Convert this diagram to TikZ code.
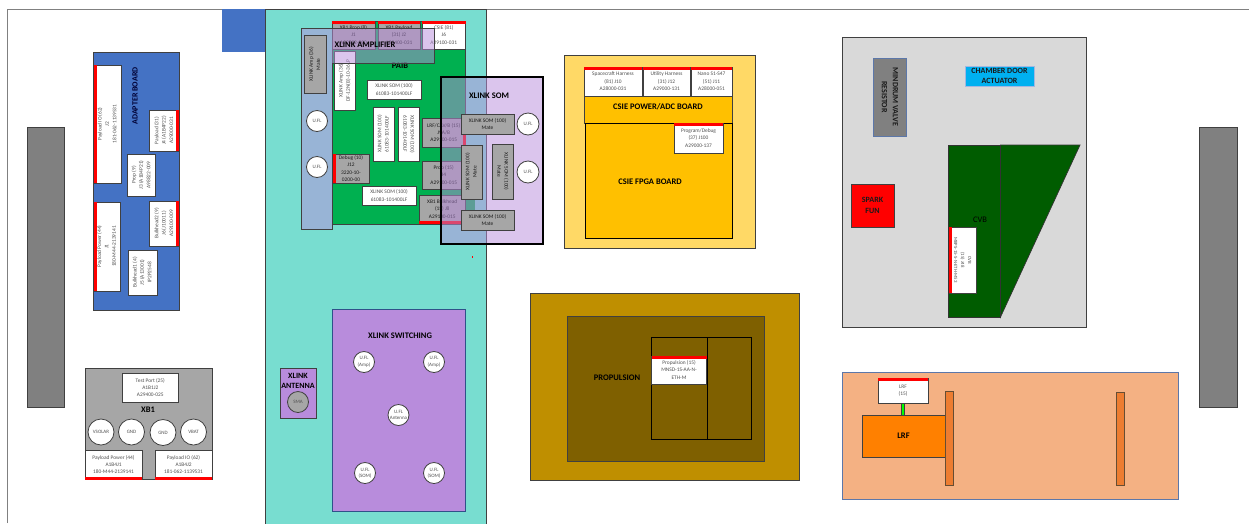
\documentclass[tikz,border=0pt]{standalone}
\usepackage{fontspec}
\usepackage{graphicx}
\setmainfont{Carlito}
\definecolor{teal1}{HTML}{78DDD0}
\definecolor{blue1}{HTML}{4472C4}
\definecolor{purp}{HTML}{B88CDC}
\definecolor{gray1}{HTML}{A6A6A6}
\definecolor{gray2}{HTML}{808080}
\definecolor{pale}{HTML}{D9D9D9}
\definecolor{ygold}{HTML}{FFC000}
\definecolor{ylight}{HTML}{FFD966}
\definecolor{brn1}{HTML}{BF8F00}
\definecolor{brn2}{HTML}{7F6000}
\definecolor{dgreen}{HTML}{005C00}
\definecolor{pgreen}{HTML}{00B050}
\definecolor{peach}{HTML}{F4B183}
\definecolor{orng}{HTML}{FF8000}
\definecolor{orng2}{HTML}{ED7D31}
\definecolor{sky}{HTML}{00B0F0}
\definecolor{edge}{HTML}{404040}
\definecolor{txt}{HTML}{505050}
\definecolor{dtxt}{HTML}{1A1A1A}
\newcommand{\bx}[7]{\node[#6,minimum width={(#4-#2)*1pt},minimum height={(#5-#3)*1pt}] (#1) at ({(#2+#4)/2},{(#3+#5)/2}) {#7};}
\newcommand{\up}[1]{\rotatebox{90}{\begin{tabular}{@{}c@{}}#1\end{tabular}}}
\newcommand{\dn}[1]{\rotatebox{-90}{\begin{tabular}{@{}c@{}}#1\end{tabular}}}
\tikzset{
  base/.style={inner sep=0pt,outer sep=0pt,align=center},
  panel/.style={base,fill=#1,draw=edge,line width=.7pt},
  conn/.style={base,fill=white,draw=edge,line width=.8pt,font=\fontsize{5.4}{7.4}\selectfont,text=txt},
  gconn/.style={conn,fill=gray1,text=dtxt},
  redstrip/.style={base,fill=red},
  ovl/.style={base,fill=purp,fill opacity=.5,draw=#1},
  title/.style={base,font=\fontsize{8.5}{10.5}\selectfont\bfseries,text=black},
  tport/.style={circle,base,fill=white,draw=edge,line width=.8pt,minimum size=21pt,font=\fontsize{5}{6.5}\selectfont,text=txt},
  dot/.style={base,fill=red,minimum size=1.5pt}
}
\begin{document}
\begin{tikzpicture}[x=1pt,y=-1pt]
\useasboundingbox (0,0) rectangle (1249,523);
\fill[white] (0,0) rectangle (1249,523);
\coordinate (tl) at (7,9); \coordinate (tr) at (1249,9); \coordinate (bl) at (7,523);
\draw[gray2,line width=1pt] (bl) -- (tl) -- (tr);
% left side
\bx{sq}{222}{9}{265}{52}{base,fill=blue1}{}
\bx{grayL}{27}{127}{64}{407}{panel=gray2}{}
\bx{grayR}{1199}{127}{1237}{407}{panel=gray2}{}
\bx{adapter}{93}{52}{179}{310}{panel=blue1}{}
\node[title,font=\fontsize{8}{10}\selectfont\bfseries,text=black!80!blue] (adapterT) at (135.5,96) {\up{ADAPTER BOARD}};
\bx{pio}{94}{65}{121}{183}{conn}{\up{Payload IO (62)\\J2\\181-062-1139531}}
\bx{pior}{94}{65}{96.5}{183}{redstrip}{}
\bx{ppw}{94}{202}{120}{291}{conn}{\up{Payload Power (44)\\J1\\180-M44-2139141}}
\bx{ppwr}{94}{202}{96.5}{291}{redstrip}{}
\bx{pay}{149.5}{110}{179}{151}{conn}{\up{Payload (31)\\J4 (A1B4P22)\\A29000-031}}
\bx{payr}{176}{110}{179}{151}{redstrip}{}
\bx{prop}{127.5}{154}{155.5}{196}{conn}{\up{Prop (9)\\J3 (A1B4P21)\\A98822-009}}
\bx{bh2}{149.5}{201}{179}{246}{conn}{\up{Bulkhead2 (9)\\J6 (J10011)\\A29100-009}}
\bx{bh2r}{176}{201}{179}{246}{redstrip}{}
\bx{bh1}{128}{250}{157}{295}{conn}{\up{Bulkhead1 (4)\\J5 (A13001)\\IP2P2548}}
% XB1
\bx{xb}{85}{368}{212}{479}{panel=gray1}{}
\bx{tp}{122}{373}{178.5}{402}{conn}{Test Port (25)\\A1B1J2\\A29400-025}
\node[title] (xbT) at (148,410) {XB1};
\node[tport,minimum size=26pt] (c1) at (101,432) {VSOLAR};
\node[tport,minimum size=26pt] (c2) at (131.5,432) {GND};
\node[tport,minimum size=26pt] (c3) at (163,432.5) {GND};
\node[tport,minimum size=26pt] (c4) at (193.5,432) {VBAT};
\bx{xp}{85}{450}{142}{479}{conn}{Payload Power (44)\\A1B4J1\\180-M44-2139141}
\bx{xpr}{85}{477}{142}{479.5}{redstrip}{}
\bx{xi}{155}{450}{212}{479}{conn}{Payload IO (62)\\A1B4J2\\181-062-1139531}
\bx{xir}{155}{477}{212}{479.5}{redstrip}{}
% teal + PAIB
\bx{teal}{265}{9}{486}{530}{panel=teal1}{}
\bx{paib}{332}{21}{465.5}{224}{base,fill=pgreen,draw=edge,line width=.5pt}{}
\bx{stub}{465.5}{199}{475}{210}{base,fill=pgreen}{}
\bx{xbp}{332}{21}{375}{49}{gconn}{XB1 Prop (8)\\J1\\A29822-000}
\bx{xbpr}{332}{21}{375}{24}{redstrip}{}
\bx{xbl}{378}{21}{420}{49}{gconn}{XB1 Payload\\(31) J2\\A29400-031}
\bx{xblr}{378}{21}{420}{24}{redstrip}{}
\bx{csm}{422}{21}{465.5}{49}{conn}{CSIE (81)\\J6\\A29100-031}
\bx{csmr}{422}{21}{465.5}{24}{redstrip}{}
\bx{amp}{334}{51}{355.5}{110}{conn}{\up{XLINK Amp (36)\\DF-12N(B)-10-36LP}}
\node[title,font=\fontsize{8.5}{10}\selectfont] (paibT) at (400,66) {\textbf{PAIB}};
\bx{s1}{367}{80}{421}{99}{conn}{XLINK SOM (100)\\61083-101400LF}
\bx{s2}{373}{107}{394}{161}{conn}{\up{XLINK SOM (100)\\61083-101400LF}}
\bx{s3}{398}{107}{419}{161}{conn}{\dn{XLINK SOM (100)\\61083-101400LF}}
\bx{lrfc}{422}{118}{465.5}{147}{gconn}{LRF/CAV/B (15)\\J9A/B\\A29100-015}
\bx{lrfcr}{463}{118}{465.5}{147}{redstrip}{}
\bx{pr}{422}{161}{465.5}{189}{gconn}{Prop (15)\\J4\\A29100-015}
\bx{xbb}{419}{195}{465.5}{223}{gconn}{XB1 Bulkhead\\(15) J8\\A29100-015}
\bx{xbbr}{419}{221}{465.5}{223.5}{redstrip}{}
\bx{dbg}{333}{154}{369}{183}{gconn}{Debug (10)\\J12\\3220-10-\\0200-00}
\bx{dbgr}{333}{154}{335.5}{183}{redstrip}{}
\bx{s4}{362}{186}{416}{205}{conn}{XLINK SOM (100)\\61083-101400LF}
% amplifier overlay
\coordinate (a1) at (301,28); \coordinate (a2) at (434,28); \coordinate (a3) at (434,63.5);
\coordinate (a4) at (332.5,63.5); \coordinate (a5) at (332.5,229); \coordinate (a6) at (301,229);
\draw[edge,line width=.7pt,fill=purp,fill opacity=.5] (a1) -- (a2) -- (a3) -- (a4) -- (a5) -- (a6) -- cycle;
\node[title] (ampT) at (365,45) {XLINK AMPLIFIER};
\bx{ampm}{304}{35}{326}{93.5}{gconn}{\up{XLINK Amp (36)\\Mate}}
\node[tport] (u1) at (317,121) {U.FL};
\node[tport] (u2) at (317,167) {U.FL};
% SOM overlay
\bx{som}{441}{77}{543}{244}{ovl=black,line width=1.3pt}{}
\node[title] (somT) at (489,96) {XLINK SOM};
\bx{m1}{461}{114}{514}{134}{gconn}{XLINK SOM (100)\\Mate}
\bx{m2}{461}{145}{482}{199}{gconn}{\up{XLINK SOM (100)\\Mate}}
\bx{m3}{492}{144}{513}{199}{gconn}{\dn{XLINK SOM (100)\\Mate}}
\bx{m4}{461}{210}{514}{230}{gconn}{XLINK SOM (100)\\Mate}
\node[tport,minimum size=22pt] (u3) at (528,124) {U.FL};
\node[tport,minimum size=22pt] (u4) at (528,172) {U.FL};
\bx{d1}{471.5}{256}{473}{257.5}{dot}{}
\bx{d2}{565.5}{197}{567}{198.5}{dot}{}
% antenna + switching
\bx{ant}{280}{368}{316}{418}{panel=purp}{}
\node[title,font=\fontsize{8}{10.5}\selectfont\bfseries] (antT) at (298,381) {XLINK\\ANTENNA};
\node[tport,fill=gray1] (sma) at (298,402) {SMA};
\bx{sw}{332}{309}{465}{511}{base,fill=purp,draw=blue1!70!black,line width=.7pt}{}
\node[title] (swT) at (400,336) {XLINK SWITCHING};
\node[tport] (w1) at (364,362) {U.FL\\(Amp)};
\node[tport] (w2) at (434,362) {U.FL\\(Amp)};
\node[tport] (w3) at (398.5,415) {U.FL\\Antenna};
\node[tport] (w4) at (365,473) {U.FL\\(SOM)};
\node[tport] (w5) at (434,473) {U.FL\\(SOM)};
% CSIE
\bx{csie}{564}{55}{755}{248}{panel=ylight}{}
\bx{cpw}{584}{68}{732}{123}{panel=ygold}{}
\bx{fpga}{585}{123}{732}{238}{base,fill=ygold,draw=black,line width=1pt}{}
\node[title] (cpwT) at (658,107) {CSIE POWER/ADC BOARD};
\node[title] (fpgaT) at (650,182) {CSIE FPGA BOARD};
\bx{c1a}{584}{67}{642}{96}{conn}{Spacecraft Harness\\(81) J10\\A28000-031}
\bx{c1r}{584}{67}{642}{70}{redstrip}{}
\bx{c2a}{643}{67}{690}{96}{conn}{Utility Harness\\(31) J12\\A29000-131}
\bx{c2r}{643}{67}{690}{70}{redstrip}{}
\bx{c3a}{691}{67}{732}{96}{conn}{Nano S1-S47\\(51) J11\\A28000-051}
\bx{c3r}{691}{67}{732}{70}{redstrip}{}
\bx{c4a}{674}{123}{723}{153}{conn}{Program/Debug\\(37) J100\\A29000-137}
\bx{c4r}{674}{123}{723}{126}{redstrip}{}
% propulsion
\bx{pouter}{530}{293}{799}{480}{panel=brn1}{}
\bx{pinner}{567}{316}{764}{461}{panel=brn2}{}
\bx{pl}{651}{337}{707}{439}{base,fill=brn2,draw=black,line width=1pt}{}
\bx{prr}{707}{337}{751}{439}{base,fill=brn2,draw=black,line width=1pt}{}
\node[title] (propT) at (617,378) {PROPULSION};
\bx{pc}{651.5}{356}{706.5}{384}{conn}{Propulsion (15)\\MNSD-1S-AA-N-\\ETH-M}
\bx{pcr}{651.5}{355.5}{706.5}{358.5}{redstrip}{}
% chamber panel
\bx{cham}{842}{37}{1086}{327}{base,fill=pale,draw=edge,line width=.7pt}{}
\bx{mind}{873}{58}{906}{136}{base,fill=gray2,draw=blue1!60!gray,line width=.7pt,font=\fontsize{8}{11}\selectfont\bfseries,text=dtxt}{\dn{MINDRUM VALVE\\RESISTOR}}
\bx{door}{965}{66}{1034}{86}{base,fill=sky,draw=blue1!50,line width=.4pt,font=\fontsize{8}{10.5}\selectfont\bfseries,text=dtxt}{CHAMBER DOOR\\ACTUATOR}
\bx{spark}{851}{184}{894}{227}{base,fill=red,draw=edge,line width=.6pt,font=\fontsize{8}{11}\selectfont\bfseries,text=dtxt}{SPARK\\FUN}
\bx{cvb}{948}{145}{1000.5}{317}{base,fill=dgreen,draw=black!80,line width=.7pt}{}
\coordinate (t1) at (1000.5,145); \coordinate (t2) at (1080,145); \coordinate (t3) at (1000.5,317);
\draw[fill=dgreen,draw=black!80,line width=.7pt] (t1) -- (t2) -- (t3) -- cycle;
\node[base,font=\fontsize{8.5}{10}\selectfont] (cvbT) at (980,220) {CVB};
\bx{cvc}{949}{227}{976}{293}{conn,font=\fontsize{4.8}{7}\selectfont}{\dn{CVB\\(15) J48\\MBPS-15-S-N-ETH-M53}}
\bx{cvr}{949}{227}{951.5}{293}{redstrip}{}
% LRF
\bx{lout}{842}{372}{1178}{499.5}{base,fill=peach,draw=blue1!60!gray,line width=.6pt}{}
\bx{lcon}{878}{378}{928}{403}{conn}{LRF\\(15)}
\bx{lconr}{878}{378}{928}{381}{redstrip}{}
\bx{lstem}{901}{403}{904.5}{415}{base,fill=green,draw=edge,line width=.4pt}{}
\bx{lbox}{862}{415}{945}{457}{base,fill=orng,draw=edge,line width=.7pt,font=\fontsize{8.5}{10}\selectfont\bfseries}{LRF}
\bx{bar1}{945}{391}{953}{485}{base,fill=orng2,draw=edge!80!orng,line width=.7pt}{}
\bx{bar2}{1116}{392}{1124}{485}{base,fill=orng2,draw=edge!80!orng,line width=.7pt}{}
\end{tikzpicture}
\end{document}
